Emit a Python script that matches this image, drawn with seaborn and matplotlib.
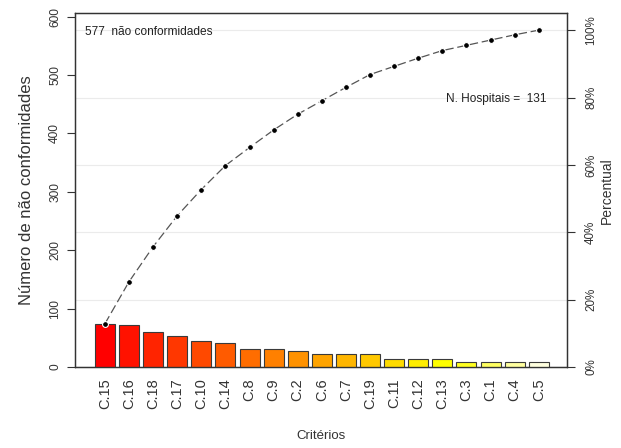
import colorsys
import numpy as np
import pandas as pd
import matplotlib
matplotlib.use("Agg")
import matplotlib.pyplot as plt
import seaborn as sns

categories = ["C.15", "C.16", "C.18", "C.17", "C.10", "C.14", "C.8", "C.9", "C.2", "C.6",
              "C.7", "C.19", "C.11", "C.12", "C.13", "C.3", "C.1", "C.4", "C.5"]
counts = [74, 72, 60, 53, 45, 41, 31, 30, 27, 23, 23, 22, 14, 14, 13, 9, 9, 9, 8]
pct_ticks = [0, 20, 40, 60, 80, 100]
left_ticks = [0, 100, 200, 300, 400, 500, 600]
n_hospitais = 131

sns.set_theme(style="white")
plt.rcParams["font.family"] = ["Liberation Sans", "DejaVu Sans"]

total = sum(counts)
df = pd.DataFrame({"crit": categories, "n": counts})

# R heat.colors(n)
n = len(categories)
j = n // 4
i = n - j
cols = [colorsys.hsv_to_rgb(h, 1, 1) for h in np.linspace(0, 1 / 6, i)]
cols += [colorsys.hsv_to_rgb(1 / 6, s, 1) for s in np.linspace(1 - 1 / (2 * j), 1 / (2 * j), j)]

fig = plt.figure(figsize=(6.21, 4.48), dpi=100)
ax = fig.add_axes([75 / 621, 81 / 448, 492 / 621, (367 - 13.3) / 448])
ax2 = ax.twinx()
ax.set_zorder(ax2.get_zorder() + 1)
ax.patch.set_visible(False)

sns.barplot(data=df, x="crit", y="n", hue="crit", palette=cols, legend=False,
            width=0.83, edgecolor="#3a3a3a", linewidth=0.8, ax=ax, saturation=1)

cum = np.cumsum(counts)
xs = np.arange(n)
ax.plot(xs, cum, color="#555555", lw=0.9, dashes=(7, 3), zorder=3)
ax.plot(xs, cum, ls="none", marker="o", ms=4.2, mfc="black", mec="white", mew=0.8, zorder=4)

ax.set_xlim(-1.24, 19.17)
ax.set_ylim(0, total * 1.05)
ax2.set_ylim(0, 105)

ax.set_yticks(left_ticks)
ax.set_yticklabels([str(t) for t in left_ticks], rotation=90, va="center", fontsize=8.6, color="#333333")
ax.tick_params(axis="y", direction="out", length=6, width=0.8, color="#333333", pad=4, left=True)
ax.tick_params(axis="x", length=0, pad=8, labelsize=10.5, labelcolor="#333333")
for lab in ax.get_xticklabels():
    lab.set_rotation(90)
    lab.set_va("top")

ax2.set_yticks(pct_ticks)
ax2.set_yticklabels([f"{t}%" for t in pct_ticks], rotation=90, va="center", fontsize=8.4, color="#333333")
ax2.tick_params(axis="y", direction="out", length=6, width=0.8, color="#333333", pad=7, right=True)
ax2.grid(axis="y", color="#ebebeb", lw=0.8)
ax2.set_ylabel("Percentual", fontsize=10, color="#333333", labelpad=2)

ax.set_xlabel("Critérios", fontsize=9.5, color="#333333", labelpad=15)
ax.set_ylabel("Número de não conformidades", fontsize=12, color="#333333", labelpad=11)

for a in (ax, ax2):
    for s in a.spines.values():
        s.set_color("#333333")
        s.set_linewidth(0.9)
        s.set_visible(True)

ax.text(0.02, 0.947, f"{total}  não conformidades", transform=ax.transAxes,
        fontsize=8.6, color="#222222", ha="left", va="center")
ax.text(0.959, 0.758, f"N. Hospitais =  {n_hospitais}", transform=ax.transAxes,
        fontsize=8.6, color="#222222", ha="right", va="center")

fig.savefig("out.png", dpi=100)
